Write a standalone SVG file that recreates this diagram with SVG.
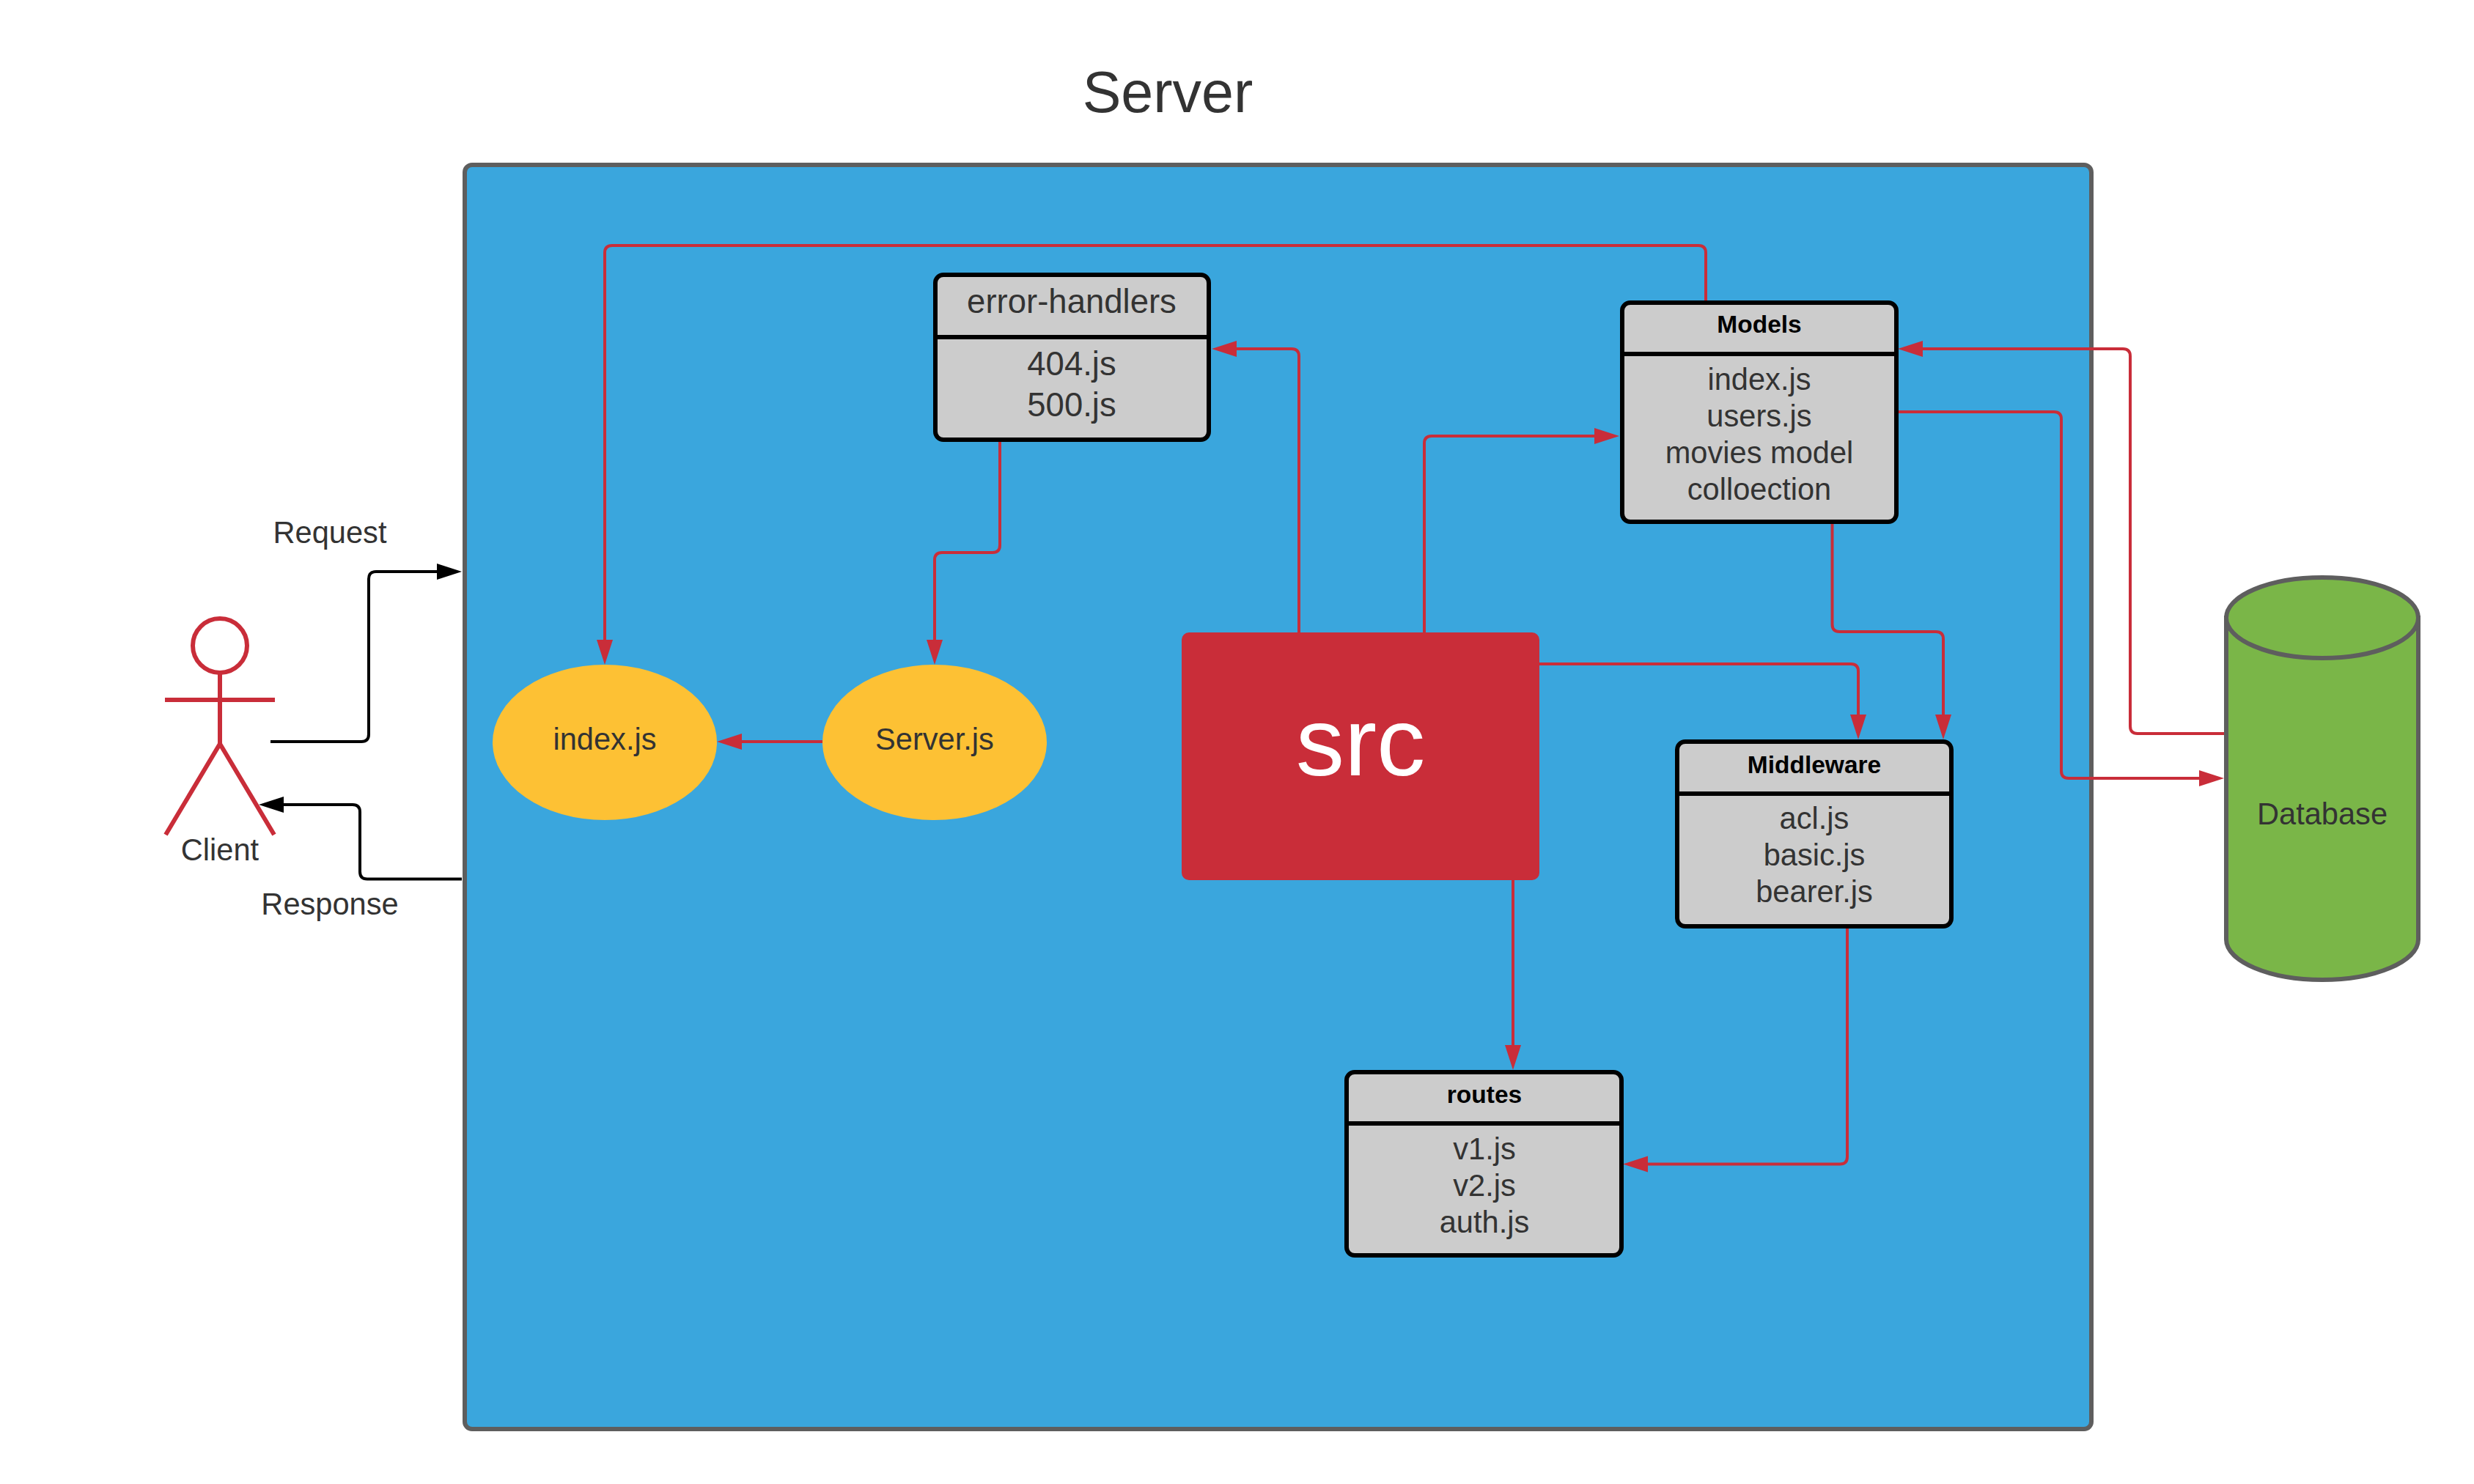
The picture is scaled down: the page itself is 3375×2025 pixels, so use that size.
<svg xmlns="http://www.w3.org/2000/svg" width="3375" height="2025" viewBox="0 0 3375 2025">
<style>
text{font-family:"Liberation Sans",Arial,sans-serif;text-anchor:middle;fill:#333}
.t41{font-size:41.600px}
.t45{font-size:45.500px}
.hd{font-size:33.500px;font-weight:bold;fill:#000}
.box{fill:#ccc;stroke:#000;stroke-width:6}
.div{stroke:#000;stroke-width:6;fill:none}
.el{fill:#fdc134}
.red{fill:none;stroke:#c92d39;stroke-width:4}
.blk{fill:none;stroke:#000;stroke-width:4}
.ra{marker-end:url(#ar)}
.ba{marker-end:url(#ab)}
.actor{fill:none;stroke:#c92d39;stroke-width:6}
.db{fill:#7ab648;stroke:#5e5e5e;stroke-width:6}
</style>
<defs>
<marker id="ar" markerUnits="userSpaceOnUse" markerWidth="40" markerHeight="26" refX="4" refY="13" orient="auto"><path d="M0 2L34 13L0 24Z" fill="#c92d39"/></marker>
<marker id="ab" markerUnits="userSpaceOnUse" markerWidth="40" markerHeight="26" refX="4" refY="13" orient="auto"><path d="M0 2L34 13L0 24Z" fill="#000"/></marker>
</defs>
<rect width="3375" height="2025" fill="#fff"/>
<text x="1593" y="153" style="font-size:79px">Server</text>
<g id="server"><rect x="634" y="225" width="2219" height="1725" rx="10" fill="#3aa6dd" stroke="#5e5e5e" stroke-width="6"/></g>
<g id="connectors">
<path class="blk ba" d="M369 1012H493Q503 1012 503 1002V790Q503 780 513 780H600"/>
<path class="blk ba" d="M630 1199.500H501Q491 1199.500 491 1189.500V1108Q491 1098 481 1098H383"/>
<path class="red ra" d="M2327 412V345Q2327 335 2317 335H835Q825 335 825 345V877"/>
<path class="red ra" d="M1772 863V486Q1772 476 1762 476H1683"/>
<path class="red ra" d="M1364 602V744Q1364 754 1354 754H1285Q1275 754 1275 764V877"/>
<path class="red ra" d="M1122 1012H1008"/>
<path class="red ra" d="M1943 863V605Q1943 595 1953 595H2179"/>
<path class="red ra" d="M2098 906H2525Q2535 906 2535 916V979"/>
<path class="red ra" d="M2064 1201V1430"/>
<path class="red ra" d="M2499.500 714V852Q2499.500 862 2509.500 862H2641Q2651 862 2651 872V979"/>
<path class="red ra" d="M2520 1266V1578.500Q2520 1588.500 2510 1588.500H2244"/>
<path class="red ra" d="M3034 1001H2916Q2906 1001 2906 991V486Q2906 476 2896 476H2619"/>
<path class="red ra" d="M2589 562H2802Q2812 562 2812 572V1052Q2812 1062 2822 1062H3004"/>
</g>
<g id="client">
<circle class="actor" cx="300" cy="881" r="37"/>
<path class="actor" d="M225 955H375M300 918V1015L226 1139M300 1015L374 1139"/>
<text class="t41" x="300" y="1174">Client</text>
</g>
<text class="t41" x="450" y="741">Request</text>
<text class="t41" x="450" y="1248">Response</text>
<g id="index-js"><ellipse class="el" cx="825" cy="1013" rx="153" ry="106"/><text class="t41" x="825" y="1023">index.js</text></g>
<g id="server-js"><ellipse class="el" cx="1275" cy="1013" rx="153" ry="106"/><text class="t41" x="1275" y="1023">Server.js</text></g>
<g id="error-handlers">
<rect class="box" x="1276" y="375" width="373" height="225" rx="11"/>
<path class="div" d="M1276 460H1649"/>
<text class="t45" x="1462" y="427">error-handlers</text>
<text class="t45" x="1462" y="512">404.js</text>
<text class="t45" x="1462" y="568">500.js</text>
</g>
<g id="models">
<rect class="box" x="2213" y="413" width="374" height="299" rx="11"/>
<path class="div" d="M2213 483H2587"/>
<text class="hd" x="2400" y="454">Models</text>
<text class="t41" x="2400" y="532">index.js</text>
<text class="t41" x="2400" y="582">users.js</text>
<text class="t41" x="2400" y="632">movies model</text>
<text class="t41" x="2400" y="682">colloection</text>
</g>
<g id="src"><rect x="1612" y="863" width="488" height="338" rx="10" fill="#c92d39"/><text x="1856" y="1058" style="font-size:132.500px;fill:#fff">src</text></g>
<g id="middleware">
<rect class="box" x="2288" y="1012" width="374" height="252" rx="11"/>
<path class="div" d="M2288 1083H2662"/>
<text class="hd" x="2475" y="1055">Middleware</text>
<text class="t41" x="2475" y="1131">acl.js</text>
<text class="t41" x="2475" y="1181">basic.js</text>
<text class="t41" x="2475" y="1231">bearer.js</text>
</g>
<g id="routes">
<rect class="box" x="1837" y="1463" width="375" height="250" rx="11"/>
<path class="div" d="M1837 1533H2212"/>
<text class="hd" x="2025" y="1505">routes</text>
<text class="t41" x="2025" y="1582">v1.js</text>
<text class="t41" x="2025" y="1632">v2.js</text>
<text class="t41" x="2025" y="1682">auth.js</text>
</g>
<g id="database">
<path class="db" d="M3037 843V1282C3037 1312 3096 1337 3168 1337C3240 1337 3299 1312 3299 1282V843Z"/>
<ellipse class="db" cx="3168" cy="843" rx="131" ry="55"/>
<text class="t41" x="3168" y="1125">Database</text>
</g>
</svg>
